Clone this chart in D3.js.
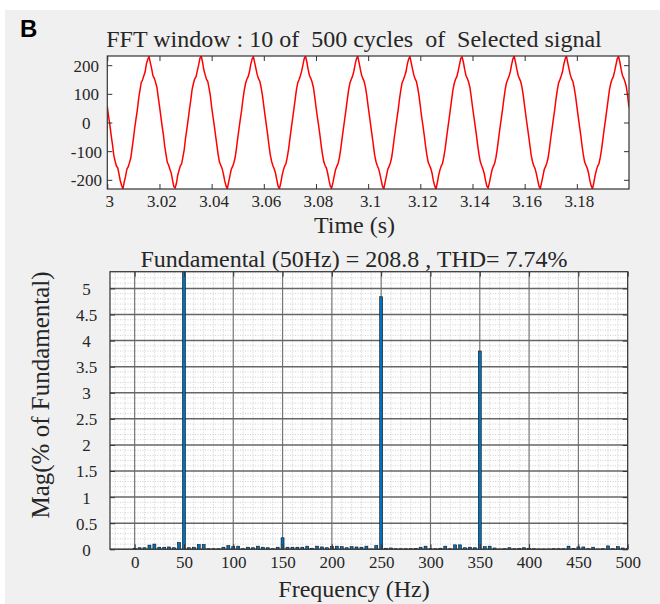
<!DOCTYPE html>
<html>
<head>
<meta charset="utf-8">
<script src="https://cdn.jsdelivr.net/npm/d3@7"></script>
<style>
  body { margin: 0; background: #fff; }
  svg text { font-family: "Liberation Serif", "Times New Roman", serif; fill: #262626; }
</style>
</head>
<body>
<div id="chart"></div>
<script>
// sampled signal, one value every 0.5 ms starting at t = 3 s
var signalStart = 3;
var signalStep = 0.0005;
var signalValues = [
  56, 20, -9, -46, -78, -115, -135, -152, -158, -180, -204, -220, -231, -207, -188, -163, -155, -140, -124, -90,
  -57, -20, 13, 42, 82, 111, 139, 148, 163, 176, 205, 220, 230, 208, 188, 163, 155, 140, 124, 90,
  58, 23, -12, -42, -82, -111, -139, -148, -163, -176, -200, -224, -228, -212, -184, -167, -151, -144, -120, -94,
  -54, -23, 10, 46, 78, 115, 135, 152, 159, 180, 200, 224, 232, 212, 184, 167, 151, 144, 120, 94,
  54, 21, -10, -45, -79, -112, -138, -149, -160, -179, -203, -221, -232, -209, -187, -164, -154, -141, -123, -91,
  -55, -21, 12, 43, 81, 112, 136, 151, 160, 177, 203, 221, 229, 209, 187, 166, 152, 143, 121, 93,
  57, 22, -11, -44, -81, -114, -136, -151, -162, -177, -201, -223, -230, -211, -185, -166, -152, -143, -121, -93,
  -57, -22, 11, 45, 79, 114, 138, 149, 162, 179, 201, 223, 231, 211, 185, 164, 154, 141, 123, 91,
  55, 21, -10, -43, -80, -112, -137, -150, -159, -178, -202, -222, -229, -210, -186, -165, -153, -142, -122, -92,
  -56, -22, 11, 44, 80, 113, 137, 150, 161, 178, 202, 222, 232, 210, 186, 165, 153, 142, 122, 92,
  56, 23, -12, -45, -79, -114, -136, -151, -161, -179, -201, -223, -231, -209, -187, -164, -154, -141, -123, -91,
  -55, -21, 12, 43, 81, 112, 138, 149, 162, 177, 203, 221, 230, 209, 187, 166, 152, 143, 121, 93,
  57, 20, -11, -44, -81, -113, -138, -149, -160, -177, -203, -221, -232, -211, -185, -166, -152, -143, -121, -93,
  -57, -23, 10, 45, 79, 114, 136, 151, 160, 179, 201, 223, 229, 211, 185, 164, 154, 141, 123, 91,
  55, 22, -10, -43, -80, -112, -137, -150, -162, -178, -202, -222, -228, -210, -186, -165, -153, -142, -122, -92,
  -56, -21, 11, 44, 80, 113, 137, 150, 161, 178, 202, 222, 231, 210, 186, 165, 153, 142, 122, 92,
  56, 21, -12, -45, -79, -114, -136, -151, -161, -179, -201, -223, -230, -209, -187, -164, -154, -141, -123, -91,
  -55, -22, 12, 43, 81, 112, 138, 149, 162, 177, 203, 221, 232, 209, 187, 166, 152, 143, 121, 93,
  57, 22, -11, -44, -81, -113, -138, -149, -160, -177, -203, -221, -231, -211, -185, -166, -152, -143, -121, -93,
  -57, -22, 10, 45, 79, 114, 136, 151, 160, 179, 201, 223, 230, 211, 185, 164, 154, 141, 123, 91,
  53
];
var timeTicks = [3, 3.02, 3.04, 3.06, 3.08, 3.1, 3.12, 3.14, 3.16, 3.18];
var voltTicks = [-200, -100, 0, 100, 200];

// spectrum, one bar every 5 Hz from 0 to 500 Hz (% of fundamental)
var freqStep = 5;
var harmonicMag = [
  0.02, 0.03, 0.03, 0.08, 0.10, 0.04, 0.04, 0.045, 0.03, 0.13,   // 0-45
  100, 0.03, 0.04, 0.09, 0.09, 0.01, 0.01, 0.01, 0.04, 0.07,     // 50-95
  0.05, 0.06, 0.01, 0.04, 0.03, 0.06, 0.04, 0.03, 0.01, 0.04,    // 100-145
  0.22, 0.04, 0.04, 0.04, 0.04, 0.06, 0.02, 0.06, 0.045, 0.03,   // 150-195
  0.05, 0.06, 0.05, 0.03, 0.05, 0.045, 0.04, 0.06, 0.005, 0.07,  // 200-245
  4.84, 0.02, 0.025, 0.01, 0.01, 0.01, 0.01, 0.015, 0.04, 0.06,  // 250-295
  0.01, 0.01, 0.02, 0.06, 0.01, 0.085, 0.085, 0.03, 0.04, 0.03,  // 300-345
  3.80, 0.05, 0.06, 0.025, 0.005, 0.01, 0.03, 0.01, 0.015, 0.03, // 350-395
  0.02, 0.01, 0.005, 0.005, 0.005, 0.01, 0.01, 0.01, 0.06, 0.015,// 400-445
  0.045, 0.045, 0.01, 0.04, 0.005, 0.01, 0.065, 0.01, 0.05, 0.025,// 450-495
  0.02                                                            // 500
];
var freqTicks = [0, 50, 100, 150, 200, 250, 300, 350, 400, 450, 500];
var magTicks = [0, 0.5, 1, 1.5, 2, 2.5, 3, 3.5, 4, 4.5, 5];

var W = 660, H = 604;
var serif = '"Liberation Serif", "Times New Roman", serif';
var svg = d3.select("#chart").append("svg").attr("width", W).attr("height", H);

svg.append("rect").attr("x", 5).attr("y", 10).attr("width", W - 5).attr("height", H - 10)
  .attr("fill", "#f0f0f0");

svg.append("text").attr("x", 20).attr("y", 37).text("B")
  .style("font-family", '"Liberation Sans", Arial, sans-serif')
  .style("font-weight", "bold").style("font-size", "24px").style("fill", "#000");

var defs = svg.append("defs");

function styleAxis(g) {
  g.select(".domain").remove();
  g.selectAll("line").attr("stroke", "#333");
  g.selectAll("text")
    .style("font-family", serif).style("font-size", "17px").style("fill", "#262626");
}

// ---------- top: time signal ----------
var p1 = {left: 107.3, right: 629, top: 56, bottom: 189};
var x1 = d3.scaleLinear().domain([3, 3.2]).range([p1.left, p1.right]);
var y1 = d3.scaleLinear().domain(d3.extent(signalValues)).range([p1.bottom, p1.top]);

defs.append("clipPath").attr("id", "clip1").append("rect")
  .attr("x", p1.left).attr("y", p1.top).attr("width", p1.right - p1.left).attr("height", p1.bottom - p1.top);

svg.append("rect").attr("x", p1.left).attr("y", p1.top)
  .attr("width", p1.right - p1.left).attr("height", p1.bottom - p1.top).attr("fill", "#fff");

var line = d3.line()
  .x(function(d, i) { return x1(signalStart + i * signalStep); })
  .y(function(d) { return y1(d); });

svg.append("path").datum(signalValues)
  .attr("clip-path", "url(#clip1)")
  .attr("d", line).attr("fill", "none").attr("stroke", "#ff0000").attr("stroke-width", 1.5);

svg.append("g").attr("transform", "translate(" + p1.left + ",0)")
  .call(d3.axisLeft(y1).tickValues(voltTicks).tickSizeInner(-5).tickSizeOuter(0).tickFormat(function(d) { return String(d); }))
  .call(styleAxis)
  .selectAll("text").attr("x", -21).attr("text-anchor", "middle").attr("dy", "0.35em");

svg.append("g").attr("transform", "translate(" + p1.right + ",0)")
  .call(d3.axisRight(y1).tickValues(voltTicks).tickSizeInner(-5).tickSizeOuter(0).tickFormat(""))
  .call(styleAxis);

svg.append("g").attr("transform", "translate(0," + p1.bottom + ")")
  .call(d3.axisBottom(x1).tickValues(timeTicks).tickSizeInner(-5).tickSizeOuter(0).tickFormat(function(d) { return String(+d.toFixed(2)); }))
  .call(styleAxis)
  .selectAll("text").attr("dy", 0).attr("y", 17.7).attr("dx", 2);

svg.append("g").attr("transform", "translate(0," + p1.top + ")")
  .call(d3.axisTop(x1).tickValues(timeTicks).tickSizeInner(-5).tickSizeOuter(0).tickFormat(""))
  .call(styleAxis);

svg.append("rect").attr("x", p1.left).attr("y", p1.top)
  .attr("width", p1.right - p1.left).attr("height", p1.bottom - p1.top)
  .attr("fill", "none").attr("stroke", "#333").attr("stroke-width", 1.2);

svg.append("text").attr("x", 354).attr("y", 46.7).attr("text-anchor", "middle")
  .style("font-size", "24px").style("white-space", "pre")
  .text("FFT window : 10 of  500 cycles  of  Selected signal");

svg.append("text").attr("x", 354.5).attr("y", 233).attr("text-anchor", "middle")
  .style("font-size", "24px").text("Time (s)");

// ---------- bottom: spectrum ----------
var p2 = {left: 110, right: 627.7, top: 271.7, bottom: 549.3};
var x2 = d3.scaleLinear().domain([-25, 500]).range([p2.left, p2.right]);
var y2 = d3.scaleLinear().domain([0, 5.32]).range([p2.bottom, p2.top]);

defs.append("clipPath").attr("id", "clip2").append("rect")
  .attr("x", p2.left).attr("y", p2.top).attr("width", p2.right - p2.left).attr("height", p2.bottom - p2.top);

svg.append("rect").attr("x", p2.left).attr("y", p2.top)
  .attr("width", p2.right - p2.left).attr("height", p2.bottom - p2.top).attr("fill", "#fff");

var grid = svg.append("g").attr("clip-path", "url(#clip2)");
var minorX = d3.range(-20, 501, 10).filter(function(f) { return f % 50 !== 0; });
var minorY = d3.range(1, 54).map(function(i) { return i / 10; }).filter(function(v) { return Math.round(v * 10) % 5 !== 0; });

grid.selectAll(".minx").data(minorX).enter().append("line")
  .attr("x1", x2).attr("x2", x2).attr("y1", p2.top).attr("y2", p2.bottom)
  .attr("stroke", "#c4c4c4").attr("stroke-width", 0.8).attr("stroke-dasharray", "1,1.5");
grid.selectAll(".miny").data(minorY).enter().append("line")
  .attr("x1", p2.left).attr("x2", p2.right).attr("y1", y2).attr("y2", y2)
  .attr("stroke", "#c4c4c4").attr("stroke-width", 0.8).attr("stroke-dasharray", "1,1.5");
grid.selectAll(".majx").data(freqTicks).enter().append("line")
  .attr("x1", x2).attr("x2", x2).attr("y1", p2.top).attr("y2", p2.bottom)
  .attr("stroke", "#777").attr("stroke-width", 1.2);
grid.selectAll(".majy").data(magTicks).enter().append("line")
  .attr("x1", p2.left).attr("x2", p2.right).attr("y1", y2).attr("y2", y2)
  .attr("stroke", "#666").attr("stroke-width", 1.5);

svg.append("g").attr("clip-path", "url(#clip2)")
  .selectAll("rect").data(harmonicMag).enter().append("rect")
  .attr("x", function(d, i) { return x2(i * freqStep - 1.5); })
  .attr("width", function(d, i) { return x2(i * freqStep + 1.5) - x2(i * freqStep - 1.5); })
  .attr("y", function(d) { return y2(d); })
  .attr("height", function(d) { return y2(0) - y2(d); })
  .attr("fill", "#0072bd").attr("stroke", "#111").attr("stroke-width", 0.6);

svg.append("g").attr("transform", "translate(" + p2.left + ",0)")
  .call(d3.axisLeft(y2).tickValues(magTicks).tickSizeInner(-5).tickSizeOuter(0).tickFormat(function(d) { return String(d); }))
  .call(styleAxis)
  .selectAll("text").attr("x", -23.5).attr("text-anchor", "middle").attr("dy", "0.35em");

svg.append("g").attr("transform", "translate(" + p2.right + ",0)")
  .call(d3.axisRight(y2).tickValues(magTicks).tickSizeInner(-5).tickSizeOuter(0).tickFormat(""))
  .call(styleAxis);

svg.append("g").attr("transform", "translate(0," + p2.bottom + ")")
  .call(d3.axisBottom(x2).tickValues(freqTicks).tickSizeInner(-5).tickSizeOuter(0).tickFormat(function(d) { return String(d); }))
  .call(styleAxis)
  .selectAll("text").attr("dy", 0).attr("y", 19);

svg.append("g").attr("transform", "translate(0," + p2.top + ")")
  .call(d3.axisTop(x2).tickValues(freqTicks).tickSizeInner(-5).tickSizeOuter(0).tickFormat(""))
  .call(styleAxis);

svg.append("rect").attr("x", p2.left).attr("y", p2.top)
  .attr("width", p2.right - p2.left).attr("height", p2.bottom - p2.top)
  .attr("fill", "none").attr("stroke", "#333").attr("stroke-width", 1.2);

svg.append("text").attr("x", 354).attr("y", 266.7).attr("text-anchor", "middle")
  .style("font-size", "24px").text("Fundamental (50Hz) = 208.8 , THD= 7.74%");

svg.append("text").attr("x", 354).attr("y", 597).attr("text-anchor", "middle")
  .style("font-size", "24px").text("Frequency (Hz)");

svg.append("text").attr("transform", "translate(48.5,395) rotate(-90)").attr("text-anchor", "middle")
  .style("font-size", "25px").text("Mag(% of Fundamental)");
</script>
</body>
</html>
